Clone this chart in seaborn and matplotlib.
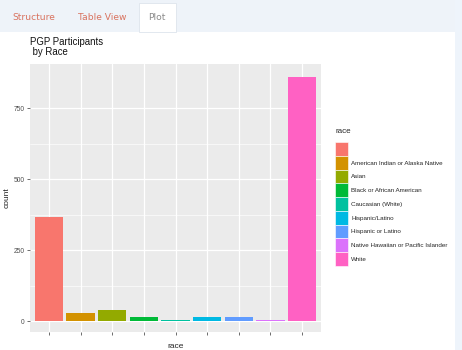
import matplotlib
matplotlib.use("Agg")
import matplotlib.pyplot as plt
import seaborn as sns
import pandas as pd
from matplotlib.patches import Patch, Rectangle

races = ["", "American Indian or Alaska Native", "Asian", "Black or African American",
         "Caucasian (White)", "Hispanic/Latino", "Hispanic or Latino",
         "Native Hawaiian or Pacific Islander", "White"]
counts = [368, 30, 38, 14, 4, 15, 15, 3, 858]
colors = ["#F8766D", "#D39200", "#93AA00", "#00BA38", "#00C19F",
          "#00B9E3", "#619CFF", "#DB72FB", "#FF61C3"]
yticks = [0, 250, 500, 750]
minor_yticks = [125, 375, 625]
tabs = ["Structure", "Table View", "Plot"]

df = pd.DataFrame({"race": races, "count": counts})

sns.set_theme(style="white")
plt.rcParams["font.family"] = ["Liberation Sans", "DejaVu Sans"]

W, H = 462, 350
fig = plt.figure(figsize=(W / 100, H / 100), dpi=100)
fig.patch.set_facecolor("white")

# tab bar
fig.patches.append(Rectangle((0, 1 - 32 / H), 1, 32 / H, transform=fig.transFigure,
                             facecolor="#eef3f9", edgecolor="none", zorder=0))
fig.patches.append(Rectangle((139 / W, 1 - 32 / H), 37 / W, 29 / H, transform=fig.transFigure,
                             facecolor="white", edgecolor="#dde4ec", linewidth=0.6, zorder=1))
fig.patches.append(Rectangle((455 / W, 0), 7 / W, 1, transform=fig.transFigure,
                             facecolor="#eef4fb", edgecolor="none", zorder=0))
tab_x = [34, 102, 157]
tab_col = ["#d9735f", "#d9735f", "#8a8a8a"]
for t, x, c in zip(tabs, tab_x, tab_col):
    fig.text(x / W, 1 - 17 / H, t, ha="center", va="center", fontsize=6.6,
             color=c, family=["DejaVu Sans"])

ax = fig.add_axes([30 / W, (H - 332) / H, 291 / W, 268 / H])
ax.set_facecolor("#EBEBEB")
sns.barplot(data=df, x="race", y="count", hue="race", palette=colors, order=races,
            hue_order=races, width=0.9, saturation=1, legend=False, ax=ax, zorder=2)
for p in ax.patches:
    p.set_edgecolor("none")

ymax = max(counts)
ax.set_ylim(-0.045 * ymax, 1.055 * ymax)
ax.set_xlim(-0.6, len(races) - 0.4)
ax.set_yticks(yticks)
ax.set_yticks(minor_yticks, minor=True)
ax.set_yticklabels([str(v) for v in yticks], fontsize=4.8, color="#4d4d4d")
ax.set_xticks(range(len(races)))
ax.set_xticklabels([""] * len(races))
ax.grid(True, which="major", color="white", linewidth=0.9, zorder=0)
ax.grid(True, which="minor", axis="y", color="white", linewidth=0.45, zorder=0)
ax.set_axisbelow(True)
ax.tick_params(axis="both", which="major", length=2.5, width=0.5, color="#333333",
               direction="out", pad=1.5, bottom=True, left=True)
ax.tick_params(axis="y", which="minor", length=0)
for s in ax.spines.values():
    s.set_visible(False)
ax.set_xlabel("race", fontsize=6, color="#222222", labelpad=4)
ax.set_ylabel("count", fontsize=6, color="#222222", labelpad=2)

fig.text(30 / W, 1 - 37 / H, "PGP Participants\n by Race", ha="left", va="top",
         fontsize=6.9, color="#111111", linespacing=1.0)

handles = [Patch(facecolor=c, edgecolor="white", linewidth=0.4) for c in colors]
leg = fig.legend(handles, races, loc="upper left", bbox_to_anchor=(331 / W, 1 - 124 / H),
                 frameon=False, fontsize=4.5, title="race", title_fontsize=5.8,
                 handlelength=1.95, handleheight=3.0, labelspacing=0.0,
                 handletextpad=0.55, borderpad=0.2, alignment="left")
leg._legend_box.sep = 5

fig.savefig("out.png", dpi=100)
